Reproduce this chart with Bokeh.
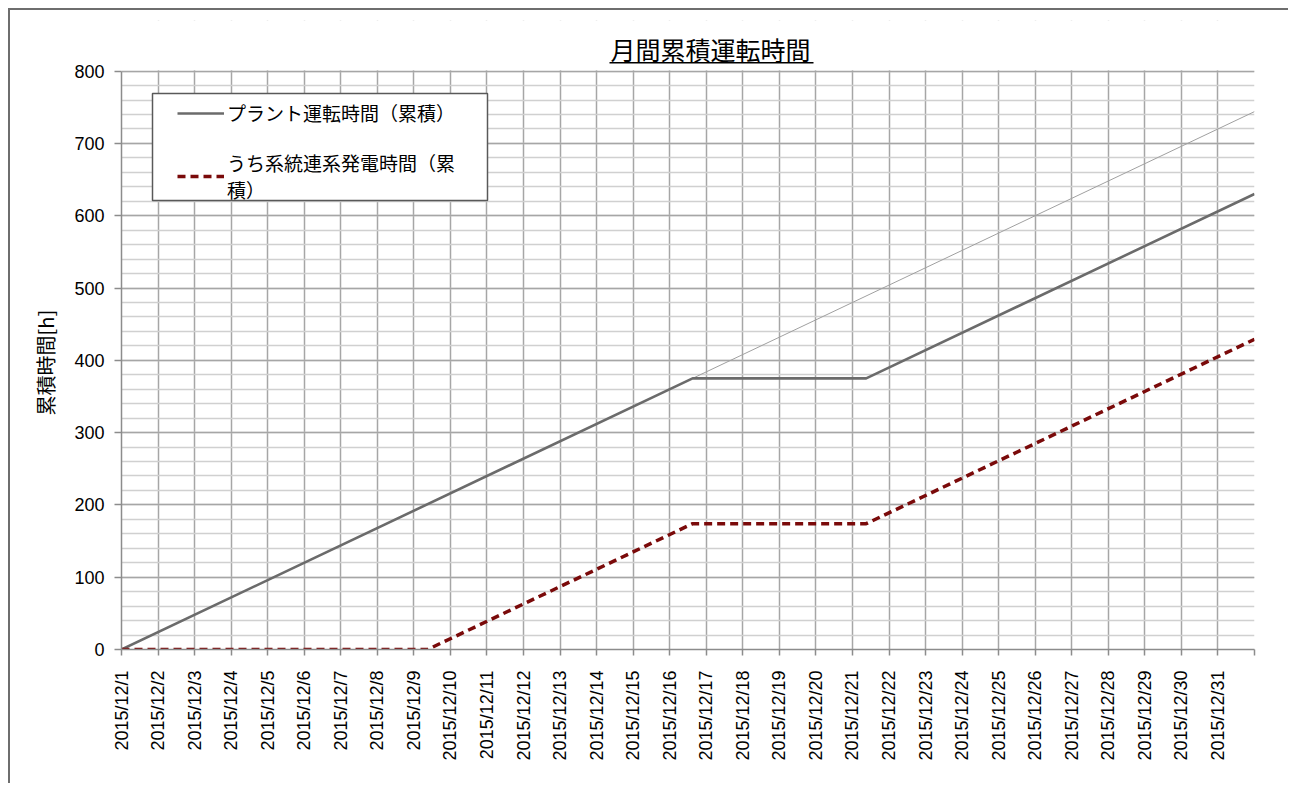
import pandas as pd
from bokeh.plotting import figure
from bokeh.models import (Range1d, FixedTicker, CustomJSTickFormatter, Legend, LegendItem,
                          Label, BoxAnnotation, Title)
from bokeh.embed import file_html
from bokeh.resources import INLINE
import math

# ---- data ----
title_text = "月間累積運転時間"
y_label = "累積時間[h]"
series_names = ["プラント運転時間（累積）", "うち系統連系発電時間（累\n積）"]

plant_times = ["2015-12-01 00:00", "2015-12-16 15:00", "2015-12-21 09:00", "2016-01-01 00:00"]
plant_hours = [0, 375, 375, 630]

grid_times = ["2015-12-01 00:00", "2015-12-09 09:00", "2015-12-16 15:00", "2015-12-21 09:00", "2016-01-01 00:00"]
grid_hours = [0, 0, 174, 174, 429]

ideal_times = ["2015-12-01 00:00", "2016-01-01 00:00"]
ideal_hours = [0, 744]

day_ticks = pd.date_range("2015-12-01", "2016-01-01", freq="D")
y_ticks = [0, 100, 200, 300, 400, 500, 600, 700, 800]
y_minor = list(range(0, 801, 20))

to_dt = lambda s: pd.to_datetime(s)

x_start = pd.Timestamp("2015-12-01")
x_end = pd.Timestamp("2016-01-01")
y_max = 800
y_top = 870  # extra room above the plot area for the title

p = figure(width=1280, height=775, x_axis_type="datetime",
           output_backend="svg", toolbar_location=None,
           x_range=Range1d(x_start, x_end), y_range=Range1d(0, y_top),
           min_border_left=111, min_border_right=36, min_border_top=10, min_border_bottom=136)
p.background_fill_color = "white"
p.border_fill_color = "white"
p.outline_line_color = None

JP = "Noto Sans CJK JP"
NUM = "Liberation Sans"

tick_ms = [t.value / 1e6 for t in day_ticks]

# grids
p.xgrid.ticker = FixedTicker(ticks=tick_ms)
p.xgrid.grid_line_color = "#a6a6a6"
p.xgrid.grid_line_width = 1.5
p.ygrid.ticker = FixedTicker(ticks=y_ticks, minor_ticks=y_minor)
p.ygrid.grid_line_color = "#a6a6a6"
p.ygrid.grid_line_width = 1.5
p.ygrid.minor_grid_line_color = "#d0d0d0"
p.ygrid.minor_grid_line_width = 1.5

# axes
xa = p.xaxis[0]
xa.ticker = FixedTicker(ticks=tick_ms)
xa.formatter = CustomJSTickFormatter(code="""
const d = new Date(tick);
if (d.getUTCMonth() != 11) { return ''; }
return d.getUTCFullYear() + '/' + (d.getUTCMonth() + 1) + '/' + d.getUTCDate();
""")
xa.major_label_orientation = math.pi / 2
xa.major_label_text_font = NUM
xa.major_label_text_font_size = "18px"
xa.major_label_text_color = "#000000"
xa.major_label_standoff = 15
xa.axis_line_color = "#8c8c8c"
xa.axis_line_width = 1.5
xa.major_tick_line_color = "#8c8c8c"
xa.major_tick_line_width = 1.5
xa.major_tick_out = 6
xa.major_tick_in = 0
xa.minor_tick_line_color = None

ya = p.yaxis[0]
ya.ticker = FixedTicker(ticks=y_ticks)
ya.bounds = (0, y_max)
ya.major_label_text_font = NUM
ya.major_label_text_font_size = "18px"
ya.major_label_text_color = "#000000"
ya.major_label_standoff = 10
ya.axis_line_color = "#8c8c8c"
ya.axis_line_width = 1.5
ya.major_tick_line_color = "#8c8c8c"
ya.major_tick_line_width = 1.5
ya.major_tick_out = 7
ya.major_tick_in = 0
ya.minor_tick_line_color = None

# y axis title, placed beside the 0..800 part of the axis
p.add_layout(Title(text=y_label, align="left", offset=234, standoff=24,
                   text_font=JP, text_font_size="20px", text_font_style="normal",
                   text_color="#000000"), "left")

# lines
p.line([to_dt(t) for t in ideal_times], ideal_hours, line_color="#a0a0a0", line_width=1)
r1 = p.line([to_dt(t) for t in plant_times], plant_hours, line_color="#6b6b6b", line_width=2.6)
r2 = p.line([to_dt(t) for t in grid_times], grid_hours, line_color="#7a0a0a", line_width=3.5,
            line_dash="8 5")

# blank band above the 800 line (title area)
p.add_layout(BoxAnnotation(bottom=y_max + 1.3, fill_color="white", fill_alpha=1,
                           line_color=None))

# legend frame
p.add_layout(BoxAnnotation(left=31, right=366, bottom=449, top=556,
                           left_units="screen", right_units="screen",
                           bottom_units="screen", top_units="screen",
                           fill_color="white", fill_alpha=1,
                           line_color="#595959", line_alpha=1, line_width=1.5))

legend = Legend(items=[LegendItem(label=series_names[0], renderers=[r1]),
                       LegendItem(label=series_names[1], renderers=[r2])],
                location=(56, 446))
legend.label_text_font = JP
legend.label_text_font_size = "19px"
legend.label_text_color = "#000000"
legend.glyph_width = 47
legend.label_standoff = 3
legend.padding = 0
legend.margin = 0
legend.spacing = 23
legend.border_line_color = None
legend.background_fill_alpha = 0
p.add_layout(legend, "center")

# title (placed in the space above the 800 line)
p.add_layout(Label(x=589, y=601, x_units="screen", y_units="screen", text=title_text,
                   text_font=JP, text_font_size="25px", text_align="center",
                   text_baseline="middle", text_color="#000000"))
p.add_layout(BoxAnnotation(left=488, right=692, bottom=586, top=587.5,
                           left_units="screen", right_units="screen",
                           bottom_units="screen", top_units="screen",
                           fill_color="#000000", fill_alpha=1, line_color=None))

p.styles = {"border-top": "2px solid #6e6e6e", "border-left": "2px solid #6e6e6e",
            "margin-left": "8px", "margin-top": "8px"}

open("out.html", "w").write(file_html(p, INLINE))
